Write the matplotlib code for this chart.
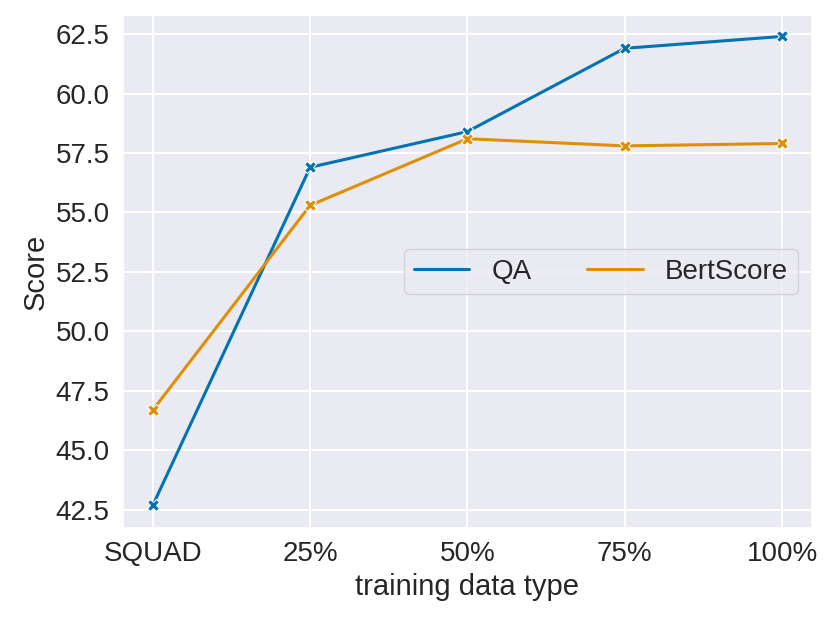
import matplotlib
matplotlib.use("Agg")
import matplotlib.pyplot as plt
import seaborn as sns
import pandas as pd

# data
data_types = ["SQUAD", "25%", "50%", "75%", "100%"]
qa_scores = [42.7, 56.9, 58.4, 61.9, 62.4]
bert_scores = [46.7, 55.3, 58.1, 57.8, 57.9]

sns.set_theme(style="darkgrid", palette="colorblind")
plt.rcParams["font.family"] = ["Liberation Sans", "DejaVu Sans"]
plt.rcParams["grid.linewidth"] = 1.5

df = pd.DataFrame({
    "training data type": data_types * 2,
    "Score": qa_scores + bert_scores,
    "metric": ["QA"] * 5 + ["BertScore"] * 5,
})

fig = plt.figure(figsize=(8.31, 6.23), dpi=100)
ax = fig.add_axes([0.148, 0.1525, 0.829, 0.8234])
sns.lineplot(data=df, x="training data type", y="Score", hue="metric",
             marker="X", markersize=8, linewidth=2.2, sort=False, ax=ax)

ax.tick_params(labelsize=20)
ax.set_xlabel("training data type", fontsize=21)
ax.set_ylabel("Score", fontsize=21)
ax.set_yticks([42.5, 45.0, 47.5, 50.0, 52.5, 55.0, 57.5, 60.0, 62.5])
ax.set_ylim(41.74, 63.30)
ax.set_xlim(-0.19, 4.19)

# legend without markers, two columns
handles, labels = ax.get_legend_handles_labels()
for h in handles:
    h.set_marker("")
ax.legend(handles, labels, loc="center right", ncol=2, fontsize=20,
          columnspacing=2.0, borderpad=0.35, borderaxespad=0.5)

fig.savefig("out.png", dpi=100)
